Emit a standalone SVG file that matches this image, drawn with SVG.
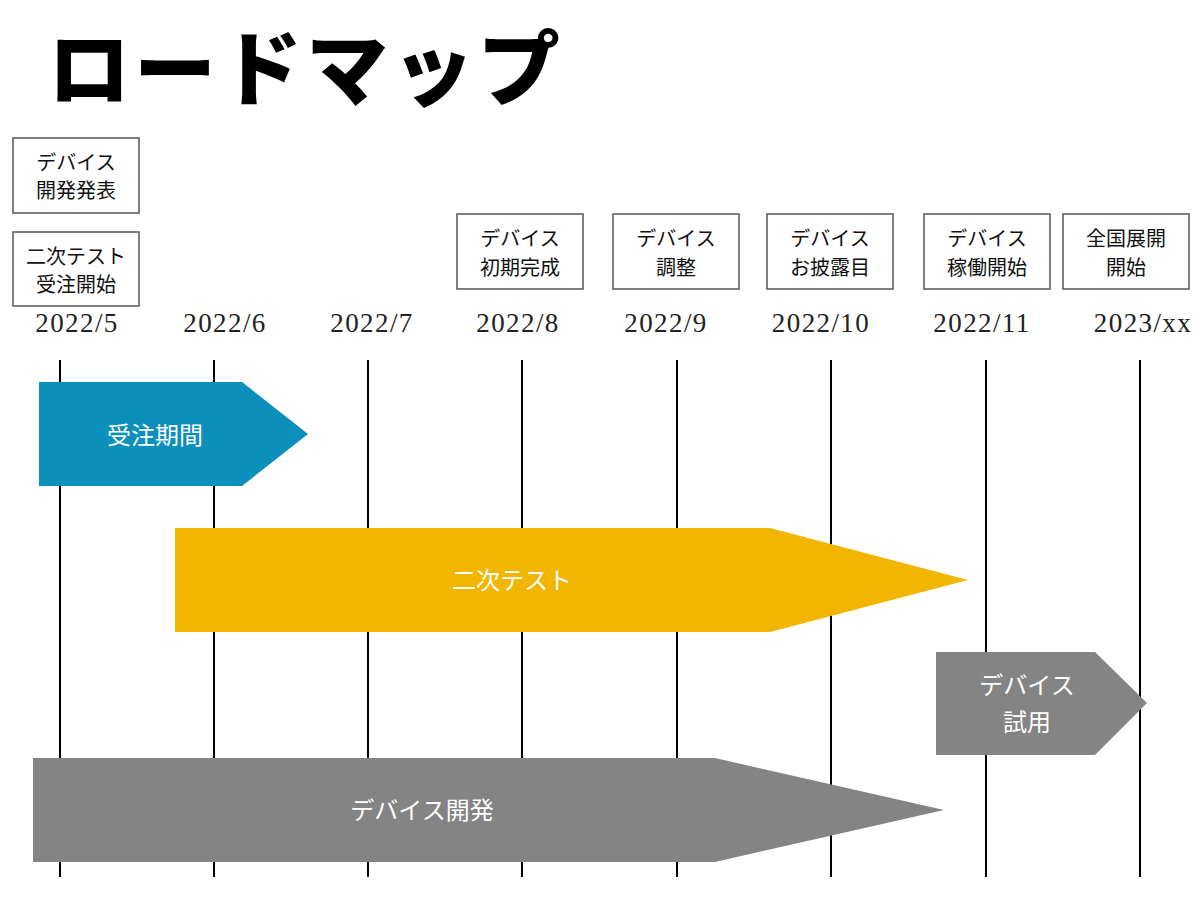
<svg xmlns="http://www.w3.org/2000/svg" width="1200" height="900" viewBox="0 0 1200 900">
<style>
.title{font-family:"Noto Sans CJK JP","Noto Sans",sans-serif;font-weight:900;font-size:82px;fill:#000;letter-spacing:4px}
.box rect{fill:#fff;stroke:#555;stroke-width:1.5}
.box text{font-family:"Noto Sans CJK JP","Noto Sans",sans-serif;font-size:20px;fill:#111;text-anchor:middle}
.date{font-family:"Liberation Serif","DejaVu Serif",serif;font-size:27px;fill:#222;text-anchor:middle;letter-spacing:1.4px}
.grid line{stroke:#000;stroke-width:2}
.bar text{font-family:"Noto Sans CJK JP","Noto Sans",sans-serif;font-size:24px;fill:#fff;text-anchor:middle}
</style>
<rect width="1200" height="900" fill="#fff"/>
<text class="title" x="48" y="99">ロードマップ</text>

<g id="milestones">
<g id="m-announce" class="box"><rect x="13" y="138" width="126" height="75"/><text x="76" y="170">デバイス</text><text x="76" y="198">開発発表</text></g>
<g id="m-order" class="box"><rect x="13" y="232" width="126" height="74"/><text x="76" y="264">二次テスト</text><text x="76" y="292">受注開始</text></g>
<g id="m-initial" class="box"><rect x="457" y="214" width="126" height="75"/><text x="520" y="246">デバイス</text><text x="520" y="275">初期完成</text></g>
<g id="m-adjust" class="box"><rect x="613" y="214" width="126" height="75"/><text x="676" y="246">デバイス</text><text x="676" y="275">調整</text></g>
<g id="m-debut" class="box"><rect x="767" y="214" width="126" height="75"/><text x="830" y="246">デバイス</text><text x="830" y="275">お披露目</text></g>
<g id="m-operate" class="box"><rect x="924" y="214" width="126" height="75"/><text x="987" y="246">デバイス</text><text x="987" y="275">稼働開始</text></g>
<g id="m-national" class="box"><rect x="1063" y="214" width="126" height="75"/><text x="1126" y="246">全国展開</text><text x="1126" y="275">開始</text></g>
</g>

<g id="dates">
<text class="date" x="77" y="332">2022/5</text>
<text class="date" x="225" y="332">2022/6</text>
<text class="date" x="372" y="332">2022/7</text>
<text class="date" x="518" y="332">2022/8</text>
<text class="date" x="666" y="332">2022/9</text>
<text class="date" x="821" y="332">2022/10</text>
<text class="date" x="982" y="332">2022/11</text>
<text class="date" x="1143" y="332">2023/xx</text>
</g>

<g id="connectors" class="grid">
<line x1="60" y1="360" x2="60" y2="877"/>
<line x1="214" y1="360" x2="214" y2="877"/>
<line x1="368" y1="360" x2="368" y2="877"/>
<line x1="522" y1="360" x2="522" y2="877"/>
<line x1="677" y1="360" x2="677" y2="877"/>
<line x1="831" y1="360" x2="831" y2="877"/>
<line x1="986" y1="360" x2="986" y2="877"/>
<line x1="1140" y1="360" x2="1140" y2="877"/>
</g>

<g id="bar-order" class="bar"><polygon points="39,382 242,382 308,434 242,486 39,486" fill="#0B8FBB"/><text x="155" y="444">受注期間</text></g>
<g id="bar-test" class="bar"><polygon points="175,528 770,528 968,580 770,632 175,632" fill="#F2B600"/><text x="512" y="589">二次テスト</text></g>
<g id="bar-trial" class="bar"><polygon points="936,652 1095,652 1147,703 1095,755 936,755" fill="#848484"/><text x="1027" y="694">デバイス</text><text x="1027" y="731">試用</text></g>
<g id="bar-dev" class="bar"><polygon points="33,758 715,758 944,810 715,862 33,862" fill="#848484"/><text x="422" y="819">デバイス開発</text></g>
</svg>
